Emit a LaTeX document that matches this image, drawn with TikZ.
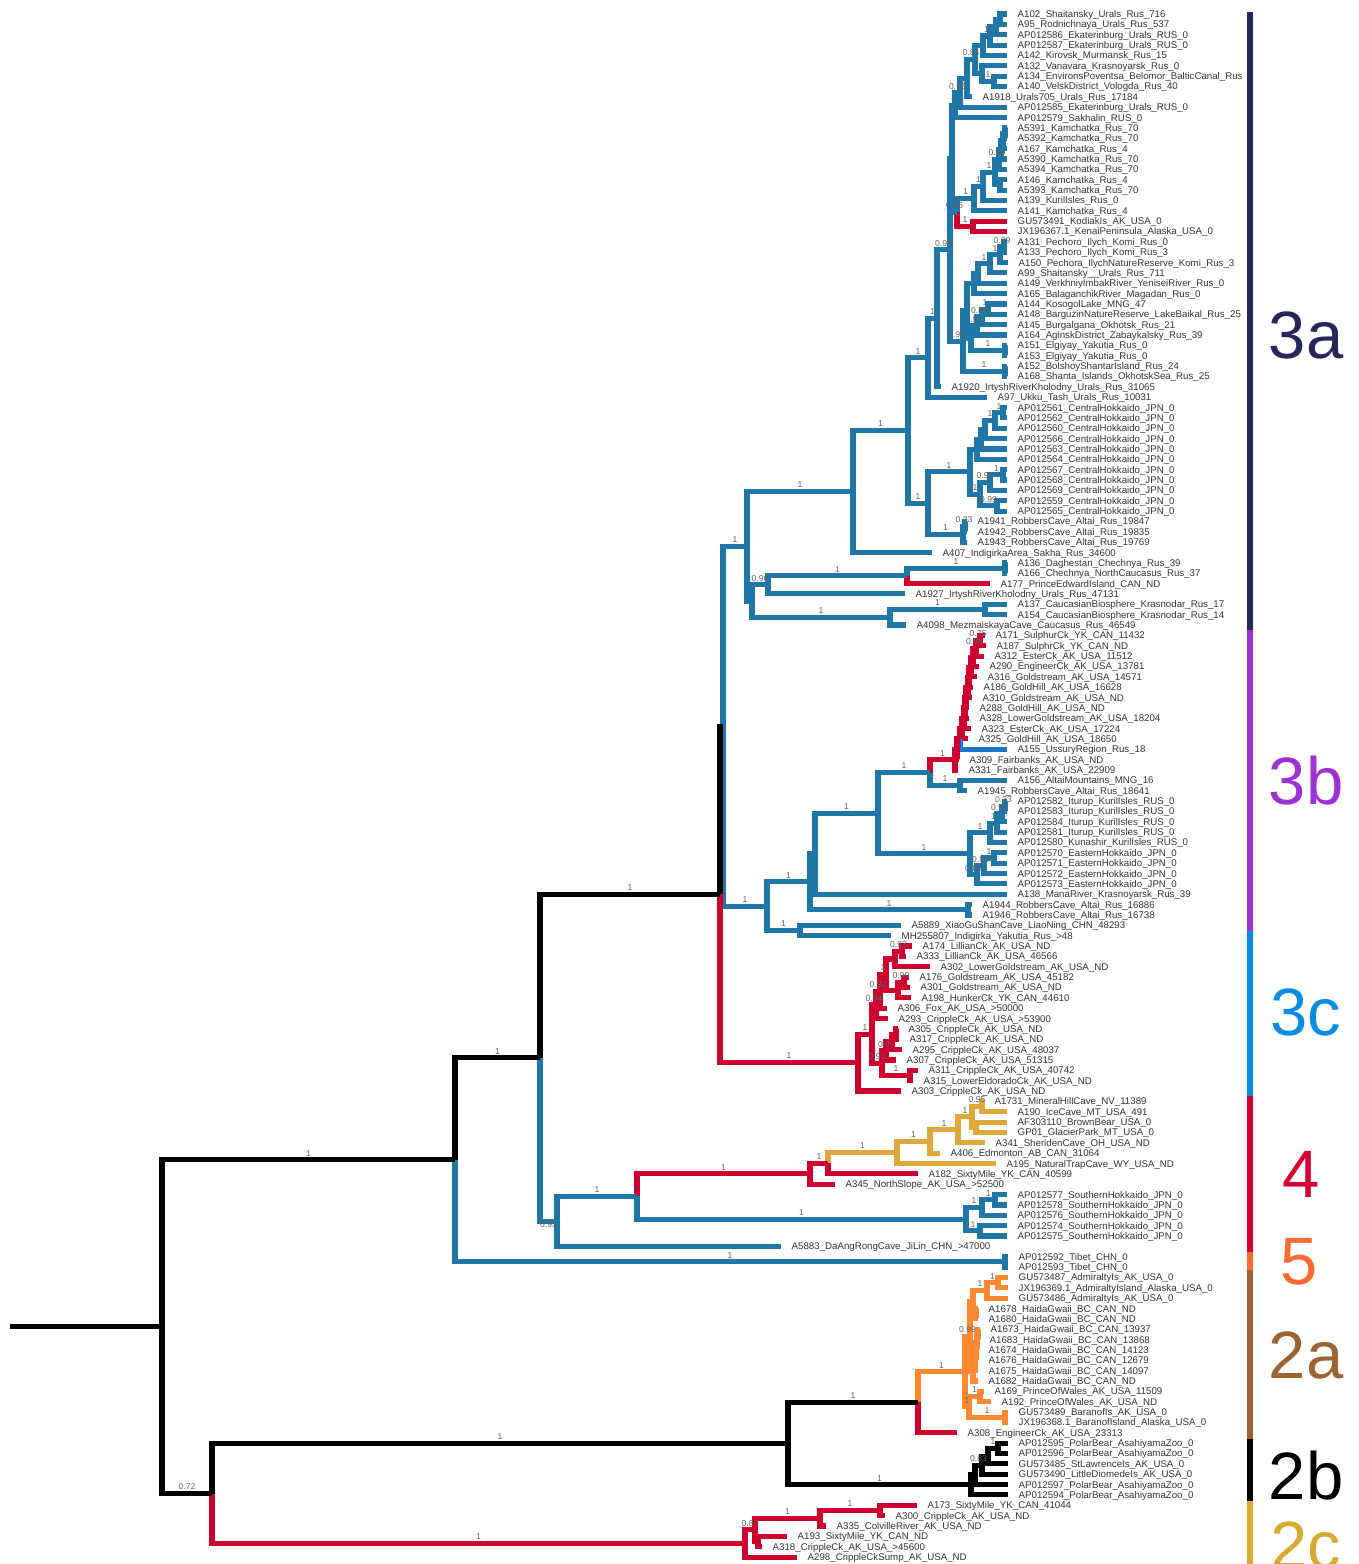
\documentclass[tikz,border=0pt]{standalone}
\usepackage{fontspec}
\setmainfont{Liberation Sans}
\usetikzlibrary{calc}
\definecolor{cblue}{RGB}{31,119,168}
\definecolor{cred}{RGB}{206,0,48}
\definecolor{corange}{RGB}{255,137,51}
\definecolor{cgold}{RGB}{222,168,58}
\definecolor{cblueb}{RGB}{28,117,196}
\definecolor{cnavy}{RGB}{37,38,90}
\definecolor{cpurple}{RGB}{157,50,210}
\definecolor{cthreec}{RGB}{10,140,225}
\definecolor{cfour}{RGB}{210,0,50}
\definecolor{cfive}{RGB}{255,105,50}
\definecolor{ctwoa}{RGB}{155,100,50}
\definecolor{ctwoc}{RGB}{215,170,50}
\newcommand\Lf[3]{\coordinate (L#1) at (#2,#1);\node[tl] (T#1) at (L#1) {#3};}
\newcommand\Nd[3]{\coordinate (#1) at (#2,#3);}
\newcommand\Ed[3]{\draw[#1] (#2) |- (#3);}
\newcommand\EdL[4]{\draw[#1] (#2) |- (#3);\node[bl] at ($(#2|-#3)!0.5!(#3)$) {#4};}
\newcommand\Ch[4]{\draw[#1] (#2) |- (L#3);\draw[#1] (#2) |- (L#4);}
\begin{document}
\begin{tikzpicture}[x=1pt,y=-10.356pt,
 tl/.style={font=\fontsize{9.7}{10}\selectfont,text=black!80,inner sep=0pt,anchor=base west,xshift=10.5pt,yshift=-3.5pt},
 bl/.style={font=\fontsize{8.6}{9}\selectfont,text=black!62,inner sep=0pt,anchor=south,yshift=3.4pt},
 eB/.style={draw=cblue,line width=5.1pt},
 eR/.style={draw=cred,line width=5.1pt},
 eK/.style={draw=black,line width=5.1pt},
 eO/.style={draw=corange,line width=5.1pt},
 eY/.style={draw=cgold,line width=5.1pt},
 eC/.style={draw=cblueb,line width=5.1pt},
 clab/.style={font=\fontsize{67}{67}\selectfont,inner sep=0pt}]
\fill[white] (0,-1.352) rectangle (1359,149.672);
\useasboundingbox (0,-1.352) rectangle (1359,149.672);
% ---------------- leaves ----------------
\Lf{0}{1007}{A102\_Shaitansky\_Urals\_Rus\_716}
\Lf{1}{1007}{A95\_Rodnichnaya\_Urals\_Rus\_537}
\Lf{2}{1007}{AP012586\_Ekaterinburg\_Urals\_RUS\_0}
\Lf{3}{1007}{AP012587\_Ekaterinburg\_Urals\_RUS\_0}
\Lf{4}{1007}{A142\_Kirovsk\_Murmansk\_Rus\_15}
\Lf{5}{1007}{A132\_Vanavara\_Krasnoyarsk\_Rus\_0}
\Lf{6}{1007}{A134\_EnvironsPoventsa\_Belomor\_BalticCanal\_Rus}
\Lf{7}{1007}{A140\_VelskDistrict\_Vologda\_Rus\_40}
\Lf{8}{972}{A1918\_Urals705\_Urals\_Rus\_17184}
\Lf{9}{1007}{AP012585\_Ekaterinburg\_Urals\_RUS\_0}
\Lf{10}{1007}{AP012579\_Sakhalin\_RUS\_0}
\Lf{11}{1007}{A5391\_Kamchatka\_Rus\_70}
\Lf{12}{1007}{A5392\_Kamchatka\_Rus\_70}
\Lf{13}{1007}{A167\_Kamchatka\_Rus\_4}
\Lf{14}{1007}{A5390\_Kamchatka\_Rus\_70}
\Lf{15}{1007}{A5394\_Kamchatka\_Rus\_70}
\Lf{16}{1007}{A146\_Kamchatka\_Rus\_4}
\Lf{17}{1007}{A5393\_Kamchatka\_Rus\_70}
\Lf{18}{1007}{A139\_KurilIsles\_Rus\_0}
\Lf{19}{1007}{A141\_Kamchatka\_Rus\_4}
\Lf{20}{1007}{GU573491\_KodiakIs\_AK\_USA\_0}
\Lf{21}{1007}{JX196367.1\_KenaiPeninsula\_Alaska\_USA\_0}
\Lf{22}{1007}{A131\_Pechoro\_Ilych\_Komi\_Rus\_0}
\Lf{23}{1007}{A133\_Pechoro\_Ilych\_Komi\_Rus\_3}
\Lf{24}{1008}{A150\_Pechora\_IlychNatureReserve\_Komi\_Rus\_3}
\Lf{25}{1007}{A99\_Shaitansky\_\_Urals\_Rus\_711}
\Lf{26}{1007}{A149\_VerkhniyImbakRiver\_YeniseiRiver\_Rus\_0}
\Lf{27}{1007}{A165\_BalaganchikRiver\_Magadan\_Rus\_0}
\Lf{28}{1007}{A144\_KosogolLake\_MNG\_47}
\Lf{29}{1007}{A148\_BarguzinNatureReserve\_LakeBaikal\_Rus\_25}
\Lf{30}{1007}{A145\_Burgalgana\_Okhotsk\_Rus\_21}
\Lf{31}{1007}{A164\_AginskDistrict\_Zabaykalsky\_Rus\_39}
\Lf{32}{1007}{A151\_Elgiyay\_Yakutia\_Rus\_0}
\Lf{33}{1007}{A153\_Elgiyay\_Yakutia\_Rus\_0}
\Lf{34}{1007}{A152\_BolshoyShantarIsland\_Rus\_24}
\Lf{35}{1007}{A168\_Shanta\_Islands\_OkhotskSea\_Rus\_25}
\Lf{36}{941}{A1920\_IrtyshRiverKholodny\_Urals\_Rus\_31065}
\Lf{37}{987}{A97\_Ukku\_Tash\_Urals\_Rus\_10031}
\Lf{38}{1007}{AP012561\_CentralHokkaido\_JPN\_0}
\Lf{39}{1007}{AP012562\_CentralHokkaido\_JPN\_0}
\Lf{40}{1007}{AP012560\_CentralHokkaido\_JPN\_0}
\Lf{41}{1007}{AP012566\_CentralHokkaido\_JPN\_0}
\Lf{42}{1007}{AP012563\_CentralHokkaido\_JPN\_0}
\Lf{43}{1007}{AP012564\_CentralHokkaido\_JPN\_0}
\Lf{44}{1007}{AP012567\_CentralHokkaido\_JPN\_0}
\Lf{45}{1007}{AP012568\_CentralHokkaido\_JPN\_0}
\Lf{46}{1007}{AP012569\_CentralHokkaido\_JPN\_0}
\Lf{47}{1007}{AP012559\_CentralHokkaido\_JPN\_0}
\Lf{48}{1007}{AP012565\_CentralHokkaido\_JPN\_0}
\Lf{49}{967}{A1941\_RobbersCave\_Altai\_Rus\_19847}
\Lf{50}{967}{A1942\_RobbersCave\_Altai\_Rus\_19835}
\Lf{51}{967}{A1943\_RobbersCave\_Altai\_Rus\_19769}
\Lf{52}{932}{A407\_IndigirkaArea\_Sakha\_Rus\_34600}
\Lf{53}{1007}{A136\_Daghestan\_Chechnya\_Rus\_39}
\Lf{54}{1007}{A166\_Chechnya\_NorthCaucasus\_Rus\_37}
\Lf{55}{990}{A177\_PrinceEdwardIsland\_CAN\_ND}
\Lf{56}{905}{A1927\_IrtyshRiverKholodny\_Urals\_Rus\_47131}
\Lf{57}{1007}{A137\_CaucasianBiosphere\_Krasnodar\_Rus\_17}
\Lf{58}{1007}{A154\_CaucasianBiosphere\_Krasnodar\_Rus\_14}
\Lf{59}{906}{A4098\_MezmaiskayaCave\_Caucasus\_Rus\_46549}
\Lf{60}{985}{A171\_SulphurCk\_YK\_CAN\_11432}
\Lf{61}{986}{A187\_SulphrCk\_YK\_CAN\_ND}
\Lf{62}{984}{A312\_EsterCk\_AK\_USA\_11512}
\Lf{63}{979}{A290\_EngineerCk\_AK\_USA\_13781}
\Lf{64}{977}{A316\_Goldstream\_AK\_USA\_14571}
\Lf{65}{973}{A186\_GoldHill\_AK\_USA\_16628}
\Lf{66}{972}{A310\_Goldstream\_AK\_USA\_ND}
\Lf{67}{969}{A288\_GoldHill\_AK\_USA\_ND}
\Lf{68}{969}{A328\_LowerGoldstream\_AK\_USA\_18204}
\Lf{69}{971}{A323\_EsterCk\_AK\_USA\_17224}
\Lf{70}{968}{A325\_GoldHill\_AK\_USA\_18650}
\Lf{71}{1007}{A155\_UssuryRegion\_Rus\_18}
\Lf{72}{959}{A309\_Fairbanks\_AK\_USA\_ND}
\Lf{73}{958}{A331\_Fairbanks\_AK\_USA\_22909}
\Lf{74}{1007}{A156\_AltaiMountains\_MNG\_16}
\Lf{75}{967}{A1945\_RobbersCave\_Altai\_Rus\_18641}
\Lf{76}{1007}{AP012582\_Iturup\_KurilIsles\_RUS\_0}
\Lf{77}{1007}{AP012583\_Iturup\_KurilIsles\_RUS\_0}
\Lf{78}{1007}{AP012584\_Iturup\_KurilIsles\_RUS\_0}
\Lf{79}{1007}{AP012581\_Iturup\_KurilIsles\_RUS\_0}
\Lf{80}{1007}{AP012580\_Kunashir\_KurilIsles\_RUS\_0}
\Lf{81}{1007}{AP012570\_EasternHokkaido\_JPN\_0}
\Lf{82}{1007}{AP012571\_EasternHokkaido\_JPN\_0}
\Lf{83}{1007}{AP012572\_EasternHokkaido\_JPN\_0}
\Lf{84}{1007}{AP012573\_EasternHokkaido\_JPN\_0}
\Lf{85}{1007}{A138\_ManaRiver\_Krasnoyarsk\_Rus\_39}
\Lf{86}{972}{A1944\_RobbersCave\_Altai\_Rus\_16886}
\Lf{87}{972}{A1946\_RobbersCave\_Altai\_Rus\_16738}
\Lf{88}{901}{A5889\_XiaoGuShanCave\_LiaoNing\_CHN\_48293}
\Lf{89}{891}{MH255807\_Indigirka\_Yakutia\_Rus\_>48}
\Lf{90}{912}{A174\_LillianCk\_AK\_USA\_ND}
\Lf{91}{906}{A333\_LillianCk\_AK\_USA\_46566}
\Lf{92}{930}{A302\_LowerGoldstream\_AK\_USA\_ND}
\Lf{93}{909}{A176\_Goldstream\_AK\_USA\_45182}
\Lf{94}{910}{A301\_Goldstream\_AK\_USA\_ND}
\Lf{95}{911}{A198\_HunkerCk\_YK\_CAN\_44610}
\Lf{96}{887}{A306\_Fox\_AK\_USA\_>50000}
\Lf{97}{888}{A293\_CrippleCk\_AK\_USA\_>53900}
\Lf{98}{898}{A305\_CrippleCk\_AK\_USA\_ND}
\Lf{99}{899}{A317\_CrippleCk\_AK\_USA\_ND}
\Lf{100}{902}{A295\_CrippleCk\_AK\_USA\_48037}
\Lf{101}{896}{A307\_CrippleCk\_AK\_USA\_51315}
\Lf{102}{918}{A311\_CrippleCk\_AK\_USA\_40742}
\Lf{103}{913}{A315\_LowerEldoradoCk\_AK\_USA\_ND}
\Lf{104}{901}{A303\_CrippleCk\_AK\_USA\_ND}
\Lf{105}{984}{A1731\_MineralHillCave\_NV\_11389}
\Lf{106}{1007}{A190\_IceCave\_MT\_USA\_491}
\Lf{107}{1007}{AF303110\_BrownBear\_USA\_0}
\Lf{108}{1007}{GP01\_GlacierPark\_MT\_USA\_0}
\Lf{109}{985}{A341\_SheridenCave\_OH\_USA\_ND}
\Lf{110}{940}{A406\_Edmonton\_AB\_CAN\_31064}
\Lf{111}{996}{A195\_NaturalTrapCave\_WY\_USA\_ND}
\Lf{112}{918}{A182\_SixtyMile\_YK\_CAN\_40599}
\Lf{113}{835}{A345\_NorthSlope\_AK\_USA\_>52500}
\Lf{114}{1007}{AP012577\_SouthernHokkaido\_JPN\_0}
\Lf{115}{1007}{AP012578\_SouthernHokkaido\_JPN\_0}
\Lf{116}{1007}{AP012576\_SouthernHokkaido\_JPN\_0}
\Lf{117}{1007}{AP012574\_SouthernHokkaido\_JPN\_0}
\Lf{118}{1007}{AP012575\_SouthernHokkaido\_JPN\_0}
\Lf{119}{781}{A5883\_DaAngRongCave\_JiLin\_CHN\_>47000}
\Lf{120}{1008}{AP012592\_Tibet\_CHN\_0}
\Lf{121}{1008}{AP012593\_Tibet\_CHN\_0}
\Lf{122}{1008}{GU573487\_AdmiraltyIs\_AK\_USA\_0}
\Lf{123}{1008}{JX196369.1\_AdmiraltyIsland\_Alaska\_USA\_0}
\Lf{124}{1008}{GU573486\_AdmiraltyIs\_AK\_USA\_0}
\Lf{125}{978}{A1678\_HaidaGwaii\_BC\_CAN\_ND}
\Lf{126}{978}{A1680\_HaidaGwaii\_BC\_CAN\_ND}
\Lf{127}{980}{A1673\_HaidaGwaii\_BC\_CAN\_13937}
\Lf{128}{979}{A1683\_HaidaGwaii\_BC\_CAN\_13868}
\Lf{129}{978}{A1674\_HaidaGwaii\_BC\_CAN\_14123}
\Lf{130}{978}{A1676\_HaidaGwaii\_BC\_CAN\_12679}
\Lf{131}{978}{A1675\_HaidaGwaii\_BC\_CAN\_14097}
\Lf{132}{978}{A1682\_HaidaGwaii\_BC\_CAN\_ND}
\Lf{133}{984}{A169\_PrinceOfWales\_AK\_USA\_11509}
\Lf{134}{991}{A192\_PrinceOfWales\_AK\_USA\_ND}
\Lf{135}{1008}{GU573489\_BaranofIs\_AK\_USA\_0}
\Lf{136}{1008}{JX196368.1\_BaranofIsland\_Alaska\_USA\_0}
\Lf{137}{957}{A308\_EngineerCk\_AK\_USA\_23313}
\Lf{138}{1008}{AP012595\_PolarBear\_AsahiyamaZoo\_0}
\Lf{139}{1008}{AP012596\_PolarBear\_AsahiyamaZoo\_0}
\Lf{140}{1008}{GU573485\_StLawrenceIs\_AK\_USA\_0}
\Lf{141}{1008}{GU573490\_LittleDiomedeIs\_AK\_USA\_0}
\Lf{142}{1008}{AP012597\_PolarBear\_AsahiyamaZoo\_0}
\Lf{143}{1008}{AP012594\_PolarBear\_AsahiyamaZoo\_0}
\Lf{144}{917}{A173\_SixtyMile\_YK\_CAN\_41044}
\Lf{145}{885}{A300\_CrippleCk\_AK\_USA\_ND}
\Lf{146}{826}{A335\_ColvilleRiver\_AK\_USA\_ND}
\Lf{147}{787}{A193\_SixtyMile\_YK\_CAN\_ND}
\Lf{148}{762}{A318\_CrippleCk\_AK\_USA\_>45600}
\Lf{149}{797}{A298\_CrippleCkSump\_AK\_USA\_ND}
% ---------------- internal nodes ----------------
\Nd{a1}{1000}{0.5}\Nd{a2}{996}{1.25}\Nd{a3}{990}{2.125}\Nd{a4}{983}{3.0625}
\Nd{a5}{994}{6.5}\Nd{a6}{982}{5.75}\Nd{a7}{975}{4.406}\Nd{a8}{967}{6.203}
\Nd{a9}{960}{7.602}\Nd{a10}{955}{8.801}
\Nd{k1}{1005}{11.5}\Nd{k2}{1003}{12.25}\Nd{k3}{1001}{13.125}\Nd{k4}{999}{14.063}
\Nd{k45}{1000}{16.5}\Nd{k5}{995}{15.281}\Nd{k6}{983}{16.641}\Nd{k7}{974}{17.820}
\Nd{rn}{973}{20.5}\Nd{k8}{957}{19.160}\Nd{tg}{952}{13.980}
\Nd{p1}{1004}{22.5}\Nd{p2}{1000}{23.25}\Nd{p3}{990}{24.125}\Nd{p5}{978}{25.063}\Nd{p6}{974}{26.031}
\Nd{q1}{988}{28.5}\Nd{q2}{982}{29.25}\Nd{q3}{977}{30.125}\Nd{q4}{1005}{32.5}\Nd{q5}{971}{31.313}
\Nd{t1}{967}{28.672}\Nd{q6}{1005}{34.5}\Nd{tt}{963}{31.586}\Nd{rr}{950}{22.783}
\Nd{qq}{937}{29.392}\Nd{pp}{928}{33.196}
\Nd{u1}{1003}{38.5}\Nd{u2}{995}{39.25}\Nd{u3}{985}{40.125}\Nd{u5}{981}{41.063}\Nd{uu}{977}{42.031}
\Nd{l1}{1003}{44.5}\Nd{l2}{990}{45.25}\Nd{l3}{997}{47.5}\Nd{ll}{980}{46.375}
\Nd{hh}{970}{44.203}\Nd{rb1}{965}{49.5}\Nd{rb}{963}{50.25}
\Nd{n928}{928}{47.227}\Nd{n908}{908}{40.211}\Nd{n853}{853}{46.106}
\Nd{c53}{1005}{53.5}\Nd{n907}{907}{54.25}\Nd{n768}{768}{55.125}
\Nd{c57}{985}{57.5}\Nd{n890}{890}{58.25}\Nd{n752}{752}{56.688}\Nd{n747}{747}{51.397}
\Nd{R12}{980}{60.5}\Nd{R11}{976}{61.25}\Nd{R10}{973}{62.125}\Nd{R9}{971}{63.063}
\Nd{R8}{969}{64.031}\Nd{R7}{968}{65.016}\Nd{R6}{966}{66.008}\Nd{R5}{965}{67.004}
\Nd{R4}{964}{68.002}\Nd{R3}{962}{69.001}\Nd{R2}{960}{70.0}\Nd{R1}{957}{71.0}\Nd{R0}{955}{72.0}
\Nd{c74}{960}{74.5}\Nd{n930}{930}{73.25}
\Nd{k1p}{1005}{76.5}\Nd{k2p}{1002}{77.25}\Nd{k3p}{997}{78.125}\Nd{kk}{990}{79.063}
\Nd{e1}{994}{81.5}\Nd{e2}{984}{82.25}\Nd{ee}{977}{83.125}
\Nd{n970b}{970}{81.094}\Nd{n878}{878}{77.172}\Nd{n813}{815}{81.086}
\Nd{c86}{968}{86.5}\Nd{n810}{810}{83.793}\Nd{n800}{800}{88.5}\Nd{n767}{767}{86.147}
\Nd{n723}{723}{68.772}
\Nd{c1}{902}{90.5}\Nd{c2}{895}{91.25}\Nd{d1}{904}{93.5}\Nd{d2}{898}{94.25}
\Nd{c3}{886}{92.75}\Nd{c4}{880}{94.375}\Nd{c5}{876}{95.688}
\Nd{f1}{896}{98.5}\Nd{f2}{892}{99.25}\Nd{f4}{886}{100.125}\Nd{f3}{910}{102.5}\Nd{f5}{882}{101.313}
\Nd{c6}{872}{98.5}\Nd{n858}{858}{101.25}\Nd{n720}{720}{85.011}
\Nd{y1}{982}{105.5}\Nd{y3}{976}{107.5}\Nd{y2}{972}{106.5}\Nd{y4}{958}{107.75}
\Nd{y5}{930}{108.875}\Nd{y6}{897}{109.938}\Nd{n828}{828}{110.969}\Nd{n810r}{810}{111.984}
\Nd{s1}{995}{114.5}\Nd{s2}{982}{115.25}\Nd{s3}{980}{117.5}\Nd{ss}{966}{116.375}
\Nd{n637}{637}{114.18}\Nd{n559}{557}{116.59}\Nd{n540}{540}{100.8}
\Nd{tb}{1005}{120.5}\Nd{n455}{455}{110.65}
\Nd{a1p}{998}{122.5}\Nd{aa}{987}{123.25}\Nd{h56}{976}{125.5}\Nd{xx}{973}{124.375}
\Nd{yl1}{978}{127.5}\Nd{yl2}{977}{128.25}\Nd{yl3}{976}{129.125}\Nd{yl4}{975}{130.063}\Nd{yy}{973}{131.031}
\Nd{ah}{970}{127.703}\Nd{pw}{980}{133.5}\Nd{bf}{1005}{135.5}\Nd{pb2}{969}{134.5}
\Nd{oo}{965}{131.102}\Nd{n918}{918}{134.051}
\Nd{pb1}{998}{138.5}\Nd{pbb2}{988}{139.25}\Nd{pbb3}{982}{140.125}\Nd{pbb4}{975}{141.063}\Nd{pb}{971}{142.031}
\Nd{n788}{788}{138.041}
\Nd{m1}{880}{144.5}\Nd{m2}{820}{145.25}\Nd{m3}{758}{147.5}\Nd{m4}{755}{146.375}\Nd{n745}{745}{147.688}
\Nd{n212}{212}{142.864}\Nd{root}{162}{126.757}\Nd{stem}{10}{126.757}
% ---------------- clade 3a ----------------
\Ch{eB}{a1}{0}{1}\Ed{eB}{a2}{a1}\Ed{eB}{a2}{L2}\Ed{eB}{a3}{a2}\Ed{eB}{a3}{L3}
\EdL{eB}{a4}{a3}{1}\Ed{eB}{a4}{L4}
\Ch{eB}{a5}{6}{7}\Ed{eB}{a6}{L5}\EdL{eB}{a6}{a5}{1}
\Ed{eB}{a7}{a4}\Ed{eB}{a7}{a6}
\EdL{eB}{a8}{a7}{0.84}\Ed{eB}{a8}{L8}
\Ed{eB}{a9}{a8}\Ed{eB}{a9}{L9}
\EdL{eB}{a10}{a9}{0.95}\Ed{eB}{a10}{L10}
\Ch{eB}{k1}{11}{12}\Ed{eB}{k2}{k1}\Ed{eB}{k2}{L13}\Ed{eB}{k3}{k2}\Ed{eB}{k3}{L14}
\Ed{eB}{k4}{k3}\Ed{eB}{k4}{L15}\Ch{eB}{k45}{16}{17}
\EdL{eB}{k5}{k4}{0.99}\Ed{eB}{k5}{k45}
\EdL{eB}{k6}{k5}{1}\Ed{eB}{k6}{L18}
\EdL{eB}{k7}{k6}{1}\Ed{eB}{k7}{L19}
\Ch{eR}{rn}{20}{21}
\EdL{eB}{k8}{k7}{1}\EdL{eR}{k8}{rn}{1}
\Ed{eB}{tg}{a10}\EdL{eB}{tg}{k8}{0.96}
\Ch{eB}{p1}{22}{23}\EdL{eB}{p2}{p1}{0.99}\Ed{eB}{p2}{L24}
\EdL{eB}{p3}{p2}{1}\Ed{eB}{p3}{L25}
\EdL{eB}{p5}{p3}{1}\Ed{eB}{p5}{L26}
\Ed{eB}{p6}{p5}\Ed{eB}{p6}{L27}
\Ch{eB}{q1}{28}{29}\EdL{eB}{q2}{q1}{1}\Ed{eB}{q2}{L30}
\EdL{eB}{q3}{q2}{0.86}\Ed{eB}{q3}{L31}
\Ch{eB}{q4}{32}{33}
\EdL{eB}{q5}{q3}{0.91}\EdL{eB}{q5}{q4}{1}
\Ed{eB}{t1}{p6}\Ed{eB}{t1}{q5}
\Ch{eB}{q6}{34}{35}
\Ed{eB}{tt}{t1}\EdL{eB}{tt}{q6}{1}
\Ed{eB}{rr}{tg}\EdL{eB}{rr}{tt}{0.98}
\EdL{eB}{qq}{rr}{0.98}\Ed{eB}{qq}{L36}
\EdL{eB}{pp}{qq}{1}\Ed{eB}{pp}{L37}
\Ch{eB}{u1}{38}{39}\EdL{eB}{u2}{u1}{1}\Ed{eB}{u2}{L40}
\EdL{eB}{u3}{u2}{1}\Ed{eB}{u3}{L41}
\Ed{eB}{u5}{u3}\Ed{eB}{u5}{L42}
\Ed{eB}{uu}{u5}\Ed{eB}{uu}{L43}
\Ch{eB}{l1}{44}{45}\EdL{eB}{l2}{l1}{1}\Ed{eB}{l2}{L46}
\Ch{eB}{l3}{47}{48}
\EdL{eB}{ll}{l2}{0.96}\EdL{eB}{ll}{l3}{0.99}
\Ed{eB}{hh}{uu}\EdL{eB}{hh}{ll}{1}
\Ch{eB}{rb1}{49}{50}\EdL{eB}{rb}{rb1}{0.33}\Ed{eB}{rb}{L51}
\EdL{eB}{n928}{hh}{1}\EdL{eB}{n928}{rb}{1}
\EdL{eB}{n908}{pp}{1}\EdL{eB}{n908}{n928}{1}
\EdL{eB}{n853}{n908}{1}\Ed{eB}{n853}{L52}
\Ch{eB}{c53}{53}{54}
\EdL{eB}{n907}{c53}{1}\Ed{eR}{n907}{L55}
\EdL{eB}{n768}{n907}{1}\Ed{eB}{n768}{L56}
\Ch{eB}{c57}{57}{58}
\EdL{eB}{n890}{c57}{1}\Ed{eB}{n890}{L59}
\EdL{eB}{n752}{n768}{0.96}\EdL{eB}{n752}{n890}{1}
\EdL{eB}{n747}{n853}{1}\Ed{eB}{n747}{n752}
% ---------------- clade 3b ----------------
\Ch{eR}{R12}{60}{61}
\EdL{eR}{R11}{R12}{0.75}\Ed{eR}{R11}{L62}
\EdL{eR}{R10}{R11}{0.98}\Ed{eR}{R10}{L63}
\Ed{eR}{R9}{R10}\Ed{eR}{R9}{L64}
\Ed{eR}{R8}{R9}\Ed{eR}{R8}{L65}
\Ed{eR}{R7}{R8}\Ed{eR}{R7}{L66}
\Ed{eR}{R6}{R7}\Ed{eR}{R6}{L67}
\Ed{eR}{R5}{R6}\Ed{eR}{R5}{L68}
\Ed{eR}{R4}{R5}\Ed{eR}{R4}{L69}
\Ed{eR}{R3}{R4}\Ed{eR}{R3}{L70}
\Ed{eC}{R2}{L71}\Ed{eR}{R2}{R3}
\Ed{eR}{R1}{R2}\Ed{eR}{R1}{L72}
\Ed{eR}{R0}{R1}\Ed{eR}{R0}{L73}
\Ch{eB}{c74}{74}{75}
\EdL{eR}{n930}{R0}{1}\EdL{eB}{n930}{c74}{1}
\Ch{eB}{k1p}{76}{77}\EdL{eB}{k2p}{k1p}{0.33}\Ed{eB}{k2p}{L78}
\EdL{eB}{k3p}{k2p}{0.99}\Ed{eB}{k3p}{L79}
\EdL{eB}{kk}{k3p}{1}\Ed{eB}{kk}{L80}
\Ch{eB}{e1}{81}{82}\EdL{eB}{e2}{e1}{1}\Ed{eB}{e2}{L83}
\EdL{eB}{ee}{e2}{0.86}\Ed{eB}{ee}{L84}
\EdL{eB}{n970b}{kk}{1}\EdL{eB}{n970b}{ee}{0.85}
\EdL{eB}{n878}{n930}{1}\EdL{eB}{n878}{n970b}{1}
\EdL{eB}{n813}{n878}{1}\Ed{eB}{n813}{L85}
\Ch{eB}{c86}{86}{87}
\Ed{eB}{n810}{n813}\EdL{eB}{n810}{c86}{1}
\Ch{eB}{n800}{88}{89}
\EdL{eB}{n767}{n810}{1}\EdL{eB}{n767}{n800}{1}
\EdL{eB}{n723}{n747}{1}\EdL{eB}{n723}{n767}{1}
% ---------------- clade 3c ----------------
\Ch{eR}{c1}{90}{91}\EdL{eR}{c2}{c1}{0.93}\Ed{eR}{c2}{L92}
\Ch{eR}{d1}{93}{94}\EdL{eR}{d2}{d1}{0.99}\Ed{eR}{d2}{L95}
\Ed{eR}{c3}{c2}\Ed{eR}{c3}{d2}
\EdL{eR}{c4}{c3}{1}\Ed{eR}{c4}{L96}
\EdL{eR}{c5}{c4}{0.92}\Ed{eR}{c5}{L97}
\Ch{eR}{f1}{98}{99}\Ed{eR}{f2}{f1}\Ed{eR}{f2}{L100}
\Ed{eR}{f4}{f2}\Ed{eR}{f4}{L101}
\Ch{eR}{f3}{102}{103}
\EdL{eR}{f5}{f4}{0.9}\EdL{eR}{f5}{f3}{1}
\EdL{eR}{c6}{c5}{0.94}\EdL{eR}{c6}{f5}{0.93}
\EdL{eR}{n858}{c6}{1}\Ed{eR}{n858}{L104}
\EdL{eR}{n720}{n858}{1}
% ---------------- clade 4 / 5 ----------------
\Ch{eY}{y1}{105}{106}\Ch{eY}{y3}{107}{108}
\EdL{eY}{y2}{y1}{0.95}\Ed{eY}{y2}{y3}
\EdL{eY}{y4}{y2}{1}\Ed{eY}{y4}{L109}
\EdL{eY}{y5}{y4}{1}\Ed{eY}{y5}{L110}
\EdL{eY}{y6}{y5}{1}\Ed{eY}{y6}{L111}
\EdL{eY}{n828}{y6}{1}\Ed{eR}{n828}{L112}
\EdL{eR}{n810r}{n828}{1}\Ed{eR}{n810r}{L113}
\Ch{eB}{s1}{114}{115}\EdL{eB}{s2}{s1}{1}\Ed{eB}{s2}{L116}
\Ch{eB}{s3}{117}{118}
\EdL{eB}{ss}{s2}{1}\EdL{eB}{ss}{s3}{1}
\EdL{eR}{n637}{n810r}{1}\EdL{eB}{n637}{ss}{1}
\EdL{eB}{n559}{n637}{1}\Ed{eB}{n559}{L119}
\Ed{eB}{n540}{n559}
\node[bl,anchor=north,yshift=-3.4pt] (lbl095) at ($(n540|-n559)!0.5!(n559)$) {0.95};
\Ch{eB}{tb}{120}{121}
\EdL{eB}{n455}{tb}{1}
% ---------------- clade 2 ----------------
\Ch{eO}{a1p}{122}{123}\EdL{eO}{aa}{a1p}{1}\Ed{eO}{aa}{L124}
\Ch{eO}{h56}{125}{126}
\EdL{eO}{xx}{aa}{1}\Ed{eO}{xx}{h56}
\Ch{eO}{yl1}{127}{128}\Ed{eO}{yl2}{yl1}\Ed{eO}{yl2}{L129}
\Ed{eO}{yl3}{yl2}\Ed{eO}{yl3}{L130}
\Ed{eO}{yl4}{yl3}\Ed{eO}{yl4}{L131}
\Ed{eO}{yy}{yl4}\Ed{eO}{yy}{L132}
\Ed{eO}{ah}{xx}\Ed{eO}{ah}{yy}
\Ch{eO}{pw}{133}{134}\Ch{eO}{bf}{135}{136}
\EdL{eO}{pb2}{pw}{1}\EdL{eO}{pb2}{bf}{1}
\EdL{eO}{oo}{ah}{0.99}\EdL{eO}{oo}{pb2}{1}
\EdL{eO}{n918}{oo}{1}\Ed{eR}{n918}{L137}
\Ch{eK}{pb1}{138}{139}\EdL{eK}{pbb2}{pb1}{1}\Ed{eK}{pbb2}{L140}
\Ed{eK}{pbb3}{pbb2}\Ed{eK}{pbb3}{L141}
\EdL{eK}{pbb4}{pbb3}{0.83}\Ed{eK}{pbb4}{L142}
\Ed{eK}{pb}{pbb4}\Ed{eK}{pb}{L143}
\Ch{eR}{m1}{144}{145}\EdL{eR}{m2}{m1}{1}\Ed{eR}{m2}{L146}
\Ch{eR}{m3}{147}{148}
\EdL{eR}{m4}{m2}{1}\Ed{eR}{m4}{m3}
\EdL{eR}{n745}{m4}{0.87}\Ed{eR}{n745}{L149}
\EdL{eR}{n212}{n745}{1}
% ---------------- black backbone ----------------
\EdL{eK}{n788}{n918}{1}\EdL{eK}{n788}{pb}{1}
\EdL{eK}{n212}{n788}{1}
\Ed{eK}{n720}{n723}
\EdL{eK}{n540}{n720}{1}
\EdL{eK}{n455}{n540}{1}
\EdL{eK}{root}{n455}{1}\EdL{eK}{root}{n212}{0.72}
\draw[eK] (stem) -- (root);
% ---------------- clade bars and labels ----------------
\fill[cnavy] (1247,-0.2) rectangle (1253,59.5);
\fill[cpurple] (1247,59.5) rectangle (1253,88.5);
\fill[cthreec] (1247,88.5) rectangle (1253,104.5);
\fill[cfour] (1247,104.5) rectangle (1253,119.5);
\fill[cfive] (1247,119.5) rectangle (1253,121.3);
\fill[ctwoa] (1247,121.3) rectangle (1253,137.6);
\fill[black] (1247,137.6) rectangle (1253,143.6);
\fill[ctwoc] (1247,143.6) rectangle (1253,149.8);
\node[clab,text=cnavy] (c3a) at (1306,31.0) {3a};
\node[clab,text=cpurple] (c3b) at (1306,74.0) {3b};
\node[clab,text=cthreec] (c3c) at (1306,96.4) {3c};
\node[clab,text=cfour] (c4) at (1301,112.1) {4};
\node[clab,text=cfive] (c5) at (1299,120.5) {5};
\node[clab,text=ctwoa] (c2a) at (1306,129.5) {2a};
\node[clab,text=black] (c2b) at (1306,141.1) {2b};
\node[clab,text=ctwoc] (c2c) at (1306,147.9) {2c};
\end{tikzpicture}
\end{document}
